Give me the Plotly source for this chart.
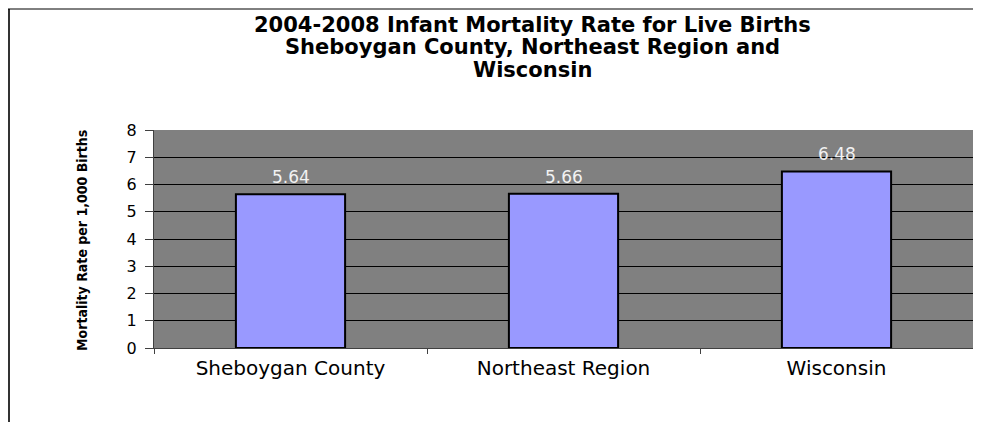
import plotly.graph_objects as go

categories = ["Sheboygan County", "Northeast Region", "Wisconsin"]
values = [5.64, 5.66, 6.48]
labels = ["5.64", "5.66", "6.48"]
y_ticks = [0, 1, 2, 3, 4, 5, 6, 7, 8]
title_lines = [
    "2004-2008 Infant Mortality Rate for Live Births",
    "Sheboygan County, Northeast Region and",
    "Wisconsin",
]
y_title = "Mortality Rate per 1,000 Births"

# page body has an 8px margin, so the figure is offset by 8px
OFF = 8
W, H = 981 - OFF, 422 - OFF
L, R, T, B = 154 - OFF, 8, 130 - OFF, 422 - 348
pw = W - L - R
ph = H - T - B

def px_x(x):  # reference screen px -> paper
    return (x - OFF - L) / pw

def px_y(y):
    return (H - B - (y - OFF)) / ph

fig = go.Figure()
fig.add_trace(go.Bar(
    x=categories, y=values, width=0.4,
    marker=dict(color="#9999FF", line=dict(color="black", width=2)),
    cliponaxis=False, hoverinfo="x+y",
))

for c, v, t in zip(categories, values, labels):
    fig.add_annotation(x=c, y=v, xref="x", yref="y", text=t, showarrow=False,
                       yanchor="bottom", yshift=5,
                       font=dict(family="DejaVu Sans", size=17, color="#F2F2F2"))

fig.update_layout(
    width=W, height=H,
    margin=dict(l=L, r=R, t=T, b=B, autoexpand=False),
    paper_bgcolor="white",
    plot_bgcolor="#808080",
    showlegend=False,
    font=dict(family="DejaVu Sans", color="black"),
    xaxis=dict(
        type="category", showgrid=False, ticks="outside", tickson="boundaries",
        ticklen=5, tickcolor="#404040", showline=True, linecolor="#404040", linewidth=1,
        tickfont=dict(family="DejaVu Sans", size=20, color="black"),
        ticklabelstandoff=2, range=[-0.5, 2.5],
    ),
    yaxis=dict(
        range=[0, 8], tickvals=y_ticks, ticks="outside", ticklen=8, tickcolor="#404040",
        showgrid=True, gridcolor="black", gridwidth=1, zeroline=False,
        showline=True, linecolor="#404040", linewidth=1,
        tickfont=dict(family="DejaVu Sans", size=16, color="black"),
        ticklabelstandoff=5,
    ),
)

title_centers_y = [25, 47, 70]
for line, yc in zip(title_lines, title_centers_y):
    fig.add_annotation(
        x=px_x(532), y=px_y(yc), xref="paper", yref="paper", xanchor="center", yanchor="middle",
        text="<b>" + line + "</b>", showarrow=False,
        font=dict(family="DejaVu Sans", size=21, color="black"),
    )

fig.add_annotation(
    x=px_x(82), y=px_y(241), xref="paper", yref="paper", xanchor="center", yanchor="middle",
    text="<b>" + y_title + "</b>", textangle=-90, showarrow=False,
    font=dict(family="DejaVu Sans Condensed", size=14, color="black"),
)

# chart frame
fig.add_shape(type="line", xref="paper", yref="paper",
              x0=px_x(9), x1=px_x(9), y0=px_y(9), y1=px_y(440),
              line=dict(color="#333333", width=2))
fig.add_shape(type="line", xref="paper", yref="paper",
              x0=px_x(8), x1=px_x(1000), y0=px_y(9), y1=px_y(9),
              line=dict(color="black", width=1))

fig.write_html("out.html")
